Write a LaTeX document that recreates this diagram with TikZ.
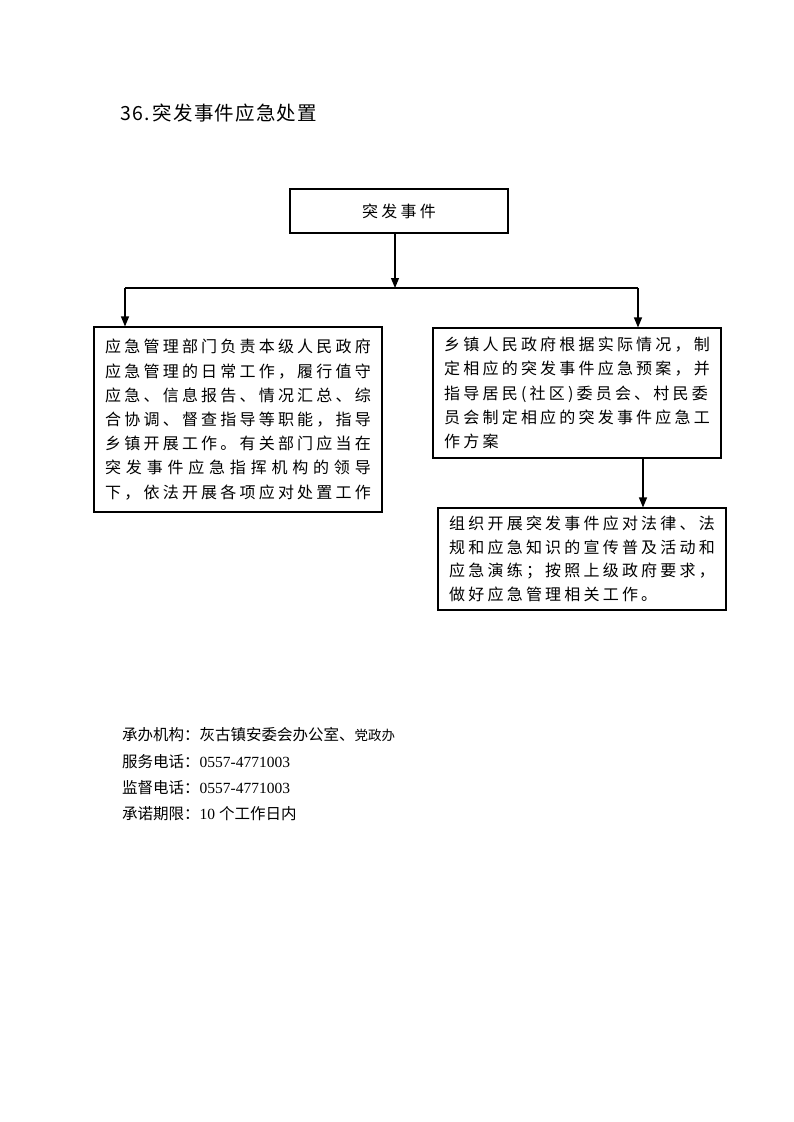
\documentclass[tikz,border=0pt]{standalone}
\usepackage{fontspec}
\setmainfont{Liberation Serif}
\newfontfamily\cjk{Noto Sans CJK SC}
\newfontfamily\cjksp[LetterSpace=20]{Noto Sans CJK SC}
\newfontfamily\cjkwide[LetterSpace=30]{Noto Sans CJK SC}
\newfontfamily\cjktitle[LetterSpace=6]{Noto Sans CJK SC}
\usetikzlibrary{arrows.meta}
\begin{document}
\begin{tikzpicture}[x=1pt,y=-1pt,
  box/.style={draw, line width=1.1pt, inner sep=0pt, align=left,
    font={\cjksp\fontsize{16}{24.2}\selectfont}},
  arr/.style={-{Triangle[length=10pt,width=8pt]}, line width=1.1pt},
  plain/.style={line width=1.1pt},
  foot/.style={anchor=west, inner sep=0pt, font={\fontsize{15.5}{18}\selectfont}}]
\useasboundingbox (0,0) rectangle (793,1122);
\node[anchor=west, inner sep=0pt, font={\cjktitle\fontsize{19.5}{22}\selectfont}] (title) at (120,113) {36.\,突发事件应急处置};
\node[box, align=center, minimum width=218pt, minimum height=44pt] (top) at (399,211) {突发事件};
\node[box, minimum width=288pt, minimum height=185pt] (L) at (238,419.5) {应急管理部门负责本级人民政府\\应急管理的日常工作，履行值守\\应急、信息报告、情况汇总、综\\合协调、督查指导等职能，指导\\乡镇开展工作。有关部门应当在\\{\cjkwide 突发事件应急指挥机构的领导}\\下，依法开展各项应对处置工作};
\node[box, minimum width=288pt, minimum height=130pt] (R1) at (577,393) {乡镇人民政府根据实际情况，制\\定相应的突发事件应急预案，并\\指导居民(社区)委员会、村民委\\员会制定相应的突发事件应急工\\作方案};
\node[box, minimum width=288pt, minimum height=102pt, font={\cjksp\fontsize{16}{23.5}\selectfont}] (R2) at (582,559) {组织开展突发事件应对法律、法\\规和应急知识的宣传普及活动和\\应急演练；按照上级政府要求，\\做好应急管理相关工作。};
\coordinate (jT) at (395,288);
\coordinate (jL) at (125,288);
\coordinate (jR) at (638,288);
\coordinate (k) at (643,0);
\draw[arr] (jT |- top.south) -- (jT);
\draw[plain] (jL) -- (jR);
\draw[arr] (jL) -- (jL |- L.north);
\draw[arr] (jR) -- (jR |- R1.north);
\draw[arr] (k |- R1.south) -- (k |- R2.north);
\node[foot] (f1) at (122,735) {\cjk 承办机构：灰古镇安委会办公室、{\fontsize{13.5}{16}\selectfont 党政办}};
\node[foot] (f2) at (122,762) {{\cjk 服务电话：}0557-4771003};
\node[foot] (f3) at (122,788) {{\cjk 监督电话：}0557-4771003};
\node[foot] (f4) at (122,814) {{\cjk 承诺期限：}10 {\cjk 个工作日内}};
\end{tikzpicture}
\end{document}
